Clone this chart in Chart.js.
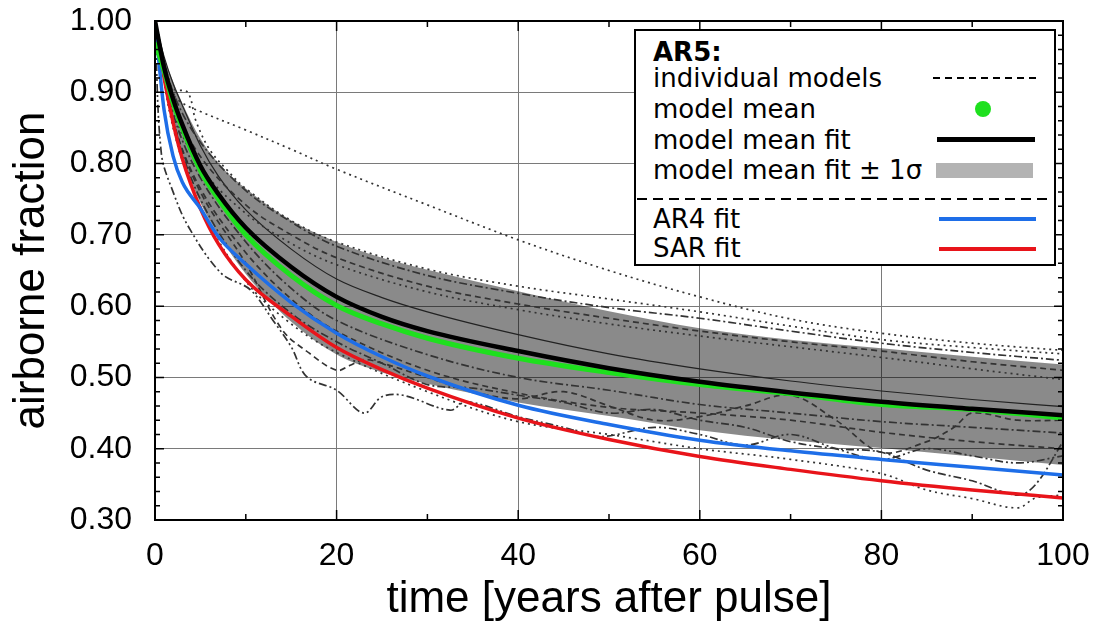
<!DOCTYPE html>
<html><head><meta charset="utf-8">
<script src="https://cdn.jsdelivr.net/npm/chart.js@4.4.1/dist/chart.umd.min.js"></script>
<style>
html,body{margin:0;padding:0;background:#fff;}
#wrap{position:relative;width:1100px;height:629px;}
#legend{position:absolute;left:634px;top:29px;width:418px;height:233px;border:2px solid #000;background:#fff;font-family:"DejaVu Sans",sans-serif;font-size:26px;color:#000;}
.row{position:absolute;left:17px;line-height:30px;height:30px;white-space:nowrap;}
.sym{position:absolute;}
</style></head>
<body>
<div id="wrap">
<canvas id="c" width="1100" height="629"></canvas>
<div id="legend">
  <div class="row" style="top:6px;font-weight:bold;">AR5:</div>
  <div class="row" style="top:32px;">individual models</div>
  <div class="row" style="top:63px;">model mean</div>
  <div class="row" style="top:94px;">model mean fit</div>
  <div class="row" style="top:124px;">model mean fit ± 1σ</div>
  <div class="row" style="top:173px;">AR4 fit</div>
  <div class="row" style="top:202px;">SAR fit</div>
  <div class="sym" style="left:297px;top:46px;width:104px;height:2px;background:repeating-linear-gradient(to right,#000 0 7px,transparent 7px 12px);"></div>
  <div class="sym" style="left:339px;top:70px;width:16px;height:16px;border-radius:50%;background:#1ee01e;"></div>
  <div class="sym" style="left:301px;top:106px;width:98px;height:5px;background:#000;"></div>
  <div class="sym" style="left:300px;top:132px;width:97px;height:15px;background:#b3b3b3;"></div>
  <div class="sym" style="left:1px;top:167px;width:413px;height:2px;background:repeating-linear-gradient(to right,#000 0 10px,transparent 10px 16px);"></div>
  <div class="sym" style="left:303px;top:186px;width:97px;height:4px;background:#1e6ee8;"></div>
  <div class="sym" style="left:303px;top:216px;width:97px;height:4px;background:#e8141a;"></div>
</div>
</div>
<script>
// ---- data ----
const years = [0,1,2,3,5,7,10,15,20,25,30,40,50,60,70,80,90,100];
const meanFit   = [1.0,0.935,0.89,0.855,0.797,0.757,0.71,0.655,0.613,0.585,0.565,0.537,0.513,0.494,0.479,0.466,0.456,0.447];
const modelMean = [0.97,0.93,0.885,0.85,0.79,0.75,0.70,0.643,0.601,0.575,0.555,0.527,0.507,0.49,0.477,0.462,0.455,0.443];
const bandUpper = [1.0,0.95,0.915,0.885,0.835,0.80,0.765,0.72,0.69,0.668,0.651,0.621,0.593,0.569,0.553,0.541,0.529,0.518];
const bandLower = [1.0,0.915,0.855,0.81,0.745,0.7,0.645,0.578,0.532,0.507,0.491,0.465,0.446,0.426,0.412,0.401,0.389,0.377];
const ar4Fit    = [1.0,0.875,0.81,0.774,0.737,0.697,0.659,0.605,0.562,0.529,0.502,0.461,0.434,0.412,0.397,0.385,0.374,0.363];
const sarFit    = [1.0,0.92,0.857,0.807,0.737,0.687,0.637,0.586,0.542,0.511,0.485,0.443,0.413,0.389,0.371,0.355,0.342,0.331];

const xStd = [0,2,5,10,15,20,30,40,50,60,70,80,90,100];
const m1x = [0,1,2,3,5,10,15,20,30,40,50,60,70,80,90,100];
const m1y = [1.0,0.93,0.897,0.885,0.873,0.847,0.82,0.792,0.742,0.693,0.65,0.613,0.582,0.562,0.548,0.538];
const m2x = [0,1,2,3.6,4.5,6,8,10,15,20,30,40,50,60,70,80,90,100];
const m2y = [1.0,0.93,0.905,0.9,0.86,0.82,0.79,0.765,0.72,0.69,0.652,0.628,0.61,0.592,0.572,0.553,0.542,0.533];
const m3y = [1.0,0.9,0.83,0.762,0.718,0.684,0.643,0.618,0.598,0.583,0.565,0.548,0.535,0.524];
const m4y = [1.0,0.885,0.81,0.742,0.7,0.668,0.628,0.603,0.583,0.565,0.55,0.537,0.522,0.51];
const m5y = [1.0,0.875,0.795,0.73,0.688,0.658,0.62,0.595,0.575,0.558,0.543,0.528,0.512,0.497];
const m6y = [1.0,0.95,0.912,0.882,0.825,0.782,0.735,0.68,0.638,0.612,0.592,0.56,0.533,0.512,0.495,0.481,0.469,0.459];
const m7y = [1.0,0.87,0.78,0.69,0.625,0.58,0.532,0.5,0.482,0.462,0.45,0.438,0.43,0.422];
const m8y = [1.0,0.86,0.765,0.675,0.61,0.565,0.51,0.478,0.458,0.45,0.44,0.423,0.41,0.40];
const m9x = [0,2,5,10,14,17,20,21.5,23,25,30,35,40,45,50,55,60,65,70,75,80,85,88,90,95,100];
const m9y = [1.0,0.86,0.76,0.66,0.567,0.534,0.51,0.517,0.525,0.52,0.5,0.48,0.47,0.48,0.46,0.44,0.445,0.46,0.475,0.44,0.395,0.41,0.43,0.45,0.44,0.44];
const m10x = [0,0.7,2,3.7,7.3,10.5,13,15,16.7,20,23,25,27.3,32.5,34.3,40,45,49,55,60,65,70,75,80,85,90,95,100];
const m10y = [1.0,0.814,0.76,0.711,0.646,0.623,0.58,0.543,0.501,0.482,0.45,0.473,0.475,0.454,0.466,0.445,0.43,0.417,0.43,0.42,0.405,0.42,0.40,0.385,0.40,0.39,0.38,0.39];
const m11x = [0,2,5,10,15,20,30,40,50,60,70,80,85,90,95,97,100];
const m11y = [1.0,0.85,0.74,0.635,0.575,0.535,0.48,0.438,0.42,0.40,0.385,0.365,0.342,0.33,0.317,0.331,0.335];
const m12x = [0,2,5,10,15,20,25,30,35,40,45,50,55,60,65,70,75,80,85,90,95,97,100];
const m12y = [1.0,0.86,0.75,0.65,0.59,0.55,0.52,0.49,0.485,0.475,0.465,0.45,0.455,0.44,0.43,0.41,0.40,0.395,0.37,0.355,0.335,0.35,0.41];

const xTicks = [0,20,40,60,80,100];
const yTicks = [0.3,0.4,0.5,0.6,0.7,0.8,0.9,1.0];
const xMinorTicks = [10,30,50,70,90];
const yMinorTicks = [0.32,0.34,0.36,0.38,0.42,0.44,0.46,0.48,0.52,0.54,0.56,0.58,0.62,0.64,0.66,0.68,0.72,0.74,0.76,0.78,0.82,0.84,0.86,0.88,0.92,0.94,0.96,0.98];

// ---- helpers ----
const pts = (xs, ys) => xs.map((x,i)=>({x:x, y:ys[i]}));
const DOT=[2,4], DASH=[6,4], DASHDOT=[8,3,2,3], DASHDOTDOT=[8,3,2,3,2,3];
const indiv = (xs, ys, dash, w) => ({
  data: pts(xs, ys), borderColor:'#333', borderWidth: w||1.7, borderDash: dash,
  pointRadius:0, fill:false, tension:0.35, order:5
});

const frameTicks = {
  id:'frameTicks',
  afterDatasetsDraw(chart){
    const {ctx, chartArea:a, scales:{x,y}} = chart;
    ctx.save();
    ctx.strokeStyle='#000';
    ctx.lineWidth=1.5;
    ctx.beginPath();
    xMinorTicks.forEach(v=>{const p=x.getPixelForValue(v); ctx.moveTo(p,a.bottom); ctx.lineTo(p,a.bottom-6); ctx.moveTo(p,a.top); ctx.lineTo(p,a.top+6);});
    xTicks.forEach(v=>{const p=x.getPixelForValue(v); ctx.moveTo(p,a.bottom); ctx.lineTo(p,a.bottom-10); ctx.moveTo(p,a.top); ctx.lineTo(p,a.top+10);});
    yMinorTicks.forEach(v=>{const p=y.getPixelForValue(v); ctx.moveTo(a.left,p); ctx.lineTo(a.left+5,p); ctx.moveTo(a.right,p); ctx.lineTo(a.right-5,p);});
    yTicks.forEach(v=>{const p=y.getPixelForValue(v); ctx.moveTo(a.left,p); ctx.lineTo(a.left+9,p); ctx.moveTo(a.right,p); ctx.lineTo(a.right-9,p);});
    ctx.stroke();
    ctx.lineWidth=2;
    ctx.strokeRect(a.left,a.top,a.width,a.height);
    ctx.restore();
  }
};

new Chart(document.getElementById('c'), {
  type:'line',
  data:{ datasets:[
    {label:'model mean fit', data:pts(years,meanFit), borderColor:'#000', borderWidth:4.5, pointRadius:0, fill:false, cubicInterpolationMode:'monotone', order:0},
    {label:'model mean', data:pts(years,modelMean), borderColor:'#1ee01e', borderWidth:5, pointRadius:0, fill:false, cubicInterpolationMode:'monotone', order:1},
    {label:'AR4 fit', data:pts(years,ar4Fit), borderColor:'#1e6ee8', borderWidth:3.5, pointRadius:0, fill:false, cubicInterpolationMode:'monotone', order:2},
    {label:'SAR fit', data:pts(years,sarFit), borderColor:'#e8141a', borderWidth:3.5, pointRadius:0, fill:false, cubicInterpolationMode:'monotone', order:3},
    indiv(m1x,m1y,DOT),
    indiv(m2x,m2y,DOT),
    indiv(xStd,m3y,DASHDOT),
    indiv(xStd,m4y,DASH),
    indiv(xStd,m5y,DOT),
    {data:pts(years,m6y), borderColor:'#222', borderWidth:1.2, pointRadius:0, fill:false, cubicInterpolationMode:'monotone', order:5},
    indiv(xStd,m7y,DASHDOT),
    indiv(xStd,m8y,DASH),
    indiv(m9x,m9y,DASH),
    indiv(m10x,m10y,DASHDOTDOT),
    indiv(m11x,m11y,DOT),
    indiv(m12x,m12y,DASHDOT),
    {label:'+1 sigma', data:pts(years,bandUpper), borderWidth:0, borderColor:'rgba(0,0,0,0)', pointRadius:0, backgroundColor:'rgba(0,0,0,0.46)', fill:'+1', cubicInterpolationMode:'monotone', order:10},
    {label:'-1 sigma', data:pts(years,bandLower), borderWidth:0, borderColor:'rgba(0,0,0,0)', pointRadius:0, fill:false, cubicInterpolationMode:'monotone', order:11}
  ]},
  options:{
    responsive:false, animation:false, devicePixelRatio:1,
    layout:{padding:{top:21,right:37,left:0,bottom:0}},
    plugins:{legend:{display:false}, tooltip:{enabled:false}},
    scales:{
      x:{type:'linear', min:0, max:100,
        afterFit(s){s.height=109; s.paddingLeft=0; s.paddingRight=0;},
        afterBuildTicks(s){s.ticks=xTicks.map(v=>({value:v}));},
        grid:{color:'#7a7a7a', lineWidth:1, drawTicks:false},
        border:{display:false},
        ticks:{color:'#000', padding:17, maxRotation:0, font:{family:'"Liberation Sans", Arial, sans-serif', size:32, lineHeight:1.2}},
        title:{display:true, text:'time [years after pulse]', color:'#000', padding:{top:0,bottom:3}, font:{family:'"Liberation Sans", Arial, sans-serif', size:44, lineHeight:1.2}}
      },
      y:{type:'linear', min:0.3, max:1.0,
        afterFit(s){s.width=155; s.paddingTop=0; s.paddingBottom=0;},
        afterBuildTicks(s){s.ticks=yTicks.map(v=>({value:v}));},
        grid:{color:'#7a7a7a', lineWidth:1, drawTicks:false},
        border:{display:false},
        ticks:{color:'#000', padding:23, callback:v=>Number(v).toFixed(2), font:{family:'"Liberation Sans", Arial, sans-serif', size:32}},
        title:{display:true, text:'airborne fraction', color:'#000', padding:{top:5,bottom:0}, font:{family:'"Liberation Sans", Arial, sans-serif', size:44, lineHeight:1.2}}
      }
    }
  },
  plugins:[frameTicks]
});
</script>
</body></html>
